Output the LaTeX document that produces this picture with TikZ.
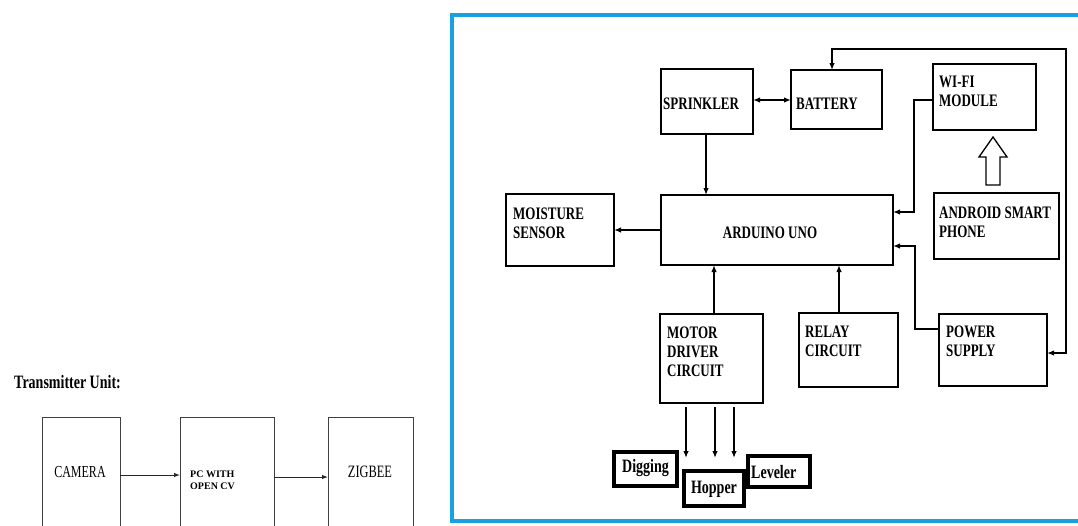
\documentclass[tikz,border=0pt]{standalone}
\usepackage{fontspec}
\setmainfont{Liberation Serif}
\usepackage{graphicx}
\usetikzlibrary{arrows.meta}
\newcommand{\tl}[1]{\scalebox{1}[1.35]{#1}}
\newcommand{\tw}[1]{\scalebox{1}[1.4]{#1}}
\definecolor{frameblue}{RGB}{25,160,225}
\begin{document}
\begin{tikzpicture}[x=1pt,y=-1pt,
 >={Latex[length=7pt,width=5.5pt]},
 box/.style={draw=black, line width=2.8pt, inner sep=0pt, outer sep=0pt},
 sbox/.style={draw=black, line width=3.4pt, inner sep=0pt, outer sep=0pt},
 tbox/.style={draw=black!75, line width=1pt, inner sep=0pt, outer sep=0pt},
 conn/.style={line width=1.7pt},
 tconn/.style={line width=1pt, draw=black!85, -{Latex[length=6pt,width=4.5pt]}},
 lbl/.style={inner sep=0pt, anchor=west, align=left, font=\bfseries\fontsize{13}{19}\selectfont},
]
\clip (0,0) rectangle (1078,525);
\fill[white] (0,0) rectangle (1078,525);

% ---------- Transmitter unit ----------
\node[inner sep=0pt, anchor=west, font=\bfseries\fontsize{14}{16}\selectfont] (ttx) at (14,382) {\tl{Transmitter Unit:}};
\node[tbox, minimum width=78, minimum height=143] (cam) at (81,488.5) {};
\node[tbox, minimum width=94, minimum height=143] (pc) at (227,488.5) {};
\node[tbox, minimum width=85, minimum height=143] (zig) at (370.5,488.5) {};
\node[inner sep=0pt, font=\fontsize{12}{14}\selectfont] (tcam) at (80,472) {\tw{CAMERA}};
\node[inner sep=0pt, font=\fontsize{12.4}{14}\selectfont] (tzig) at (370,472) {\tw{ZIGBEE}};
\node[inner sep=0pt, anchor=west, align=left, font=\bfseries\fontsize{10}{12}\selectfont] (tpc) at (190,480) {PC WITH\\OPEN CV};
\coordinate (ya) at (0,475);
\coordinate (yb) at (0,477);
\draw[tconn] (cam.east |- ya) -- (pc.west |- ya);
\draw[tconn] (pc.east |- yb) -- (zig.west |- yb);

% ---------- Receiver frame ----------
\draw[frameblue, line width=4pt] (452,15) rectangle (1095,521);

% boxes
\node[box, minimum width=92, minimum height=65] (spr) at (707,101.5) {};
\node[box, minimum width=91, minimum height=59] (bat) at (836.5,99.5) {};
\node[box, minimum width=103, minimum height=66] (wifi) at (984.5,97) {};
\node[box, minimum width=108, minimum height=72] (moi) at (560,230) {};
\node[box, minimum width=232, minimum height=70] (ard) at (777,230) {};
\node[box, minimum width=125, minimum height=66] (and) at (996.5,226) {};
\node[box, minimum width=103, minimum height=89] (mot) at (711.5,358.5) {};
\node[box, minimum width=99, minimum height=74] (rel) at (848.5,350) {};
\node[box, minimum width=108, minimum height=72] (pow) at (993,350) {};
\node[sbox, minimum width=63, minimum height=34] (dig) at (645.5,469) {};
\node[sbox, minimum width=60, minimum height=35] (hop) at (714,488.5) {};
\node[sbox, minimum width=62, minimum height=31] (lev) at (779,471.5) {};

% labels
\node[lbl] (tspr) at (663,104) {\tl{SPRINKLER}};
\node[lbl] (tbat) at (796,104) {\tl{BATTERY}};
\node[lbl] (twifi) at (939,91) {\tl{WI-FI}\\\tl{MODULE}};
\node[lbl] (tmoi) at (513,223) {\tl{MOISTURE}\\\tl{SENSOR}};
\node[lbl, anchor=center] (tard) at (770,233) {\tl{ARDUINO UNO}};
\node[lbl] (tand) at (939,222) {\tl{ANDROID SMART}\\\tl{PHONE}};
\node[lbl] (tmot) at (667,352) {\tl{MOTOR}\\\tl{DRIVER}\\\tl{CIRCUIT}};
\node[lbl] (trel) at (805,341) {\tl{RELAY}\\\tl{CIRCUIT}};
\node[lbl] (tpow) at (946,341) {\tl{POWER}\\\tl{SUPPLY}};
\node[lbl, font=\bfseries\fontsize{14}{16}\selectfont] (tdig) at (622,468) {\tl{Digging}};
\node[lbl, anchor=center, font=\bfseries\fontsize{14}{16}\selectfont] (thop) at (714,489) {\tl{Hopper}};
\node[lbl, font=\bfseries\fontsize{14}{16}\selectfont] (tlev) at (751,472) {\tl{Leveler}};

% connectors
\coordinate (ysb) at (0,100);
\draw[conn,<->] (spr.east |- ysb) -- (bat.west |- ysb);
\coordinate (sx) at (706,0);
\draw[conn,->] (spr.south -| sx) -- (ard.north -| sx);
\draw[conn,->] (ard.west) -- (moi.east);
\coordinate (w1) at (914,100);
\coordinate (w2) at (914,212);
\draw[conn,->] (wifi.west |- w1) -- (w1) -- (w2) -- (ard.east |- w2);
\coordinate (p1) at (915,329);
\coordinate (p2) at (915,246);
\draw[conn,->] (pow.west |- p1) -- (p1) -- (p2) -- (ard.east |- p2);
\coordinate (l1) at (832,49);
\coordinate (l2) at (1066,49);
\coordinate (l3) at (1066,353);
\draw[conn,<->] (bat.north -| l1) -- (l1) -- (l2) -- (l3) -- (pow.east |- l3);
\coordinate (mu) at (714,0);
\draw[conn,->] (mot.north -| mu) -- (ard.south -| mu);
\coordinate (ru) at (839,0);
\draw[conn,->] (rel.north -| ru) -- (ard.south -| ru);
\coordinate (d1) at (686,458);
\coordinate (d2) at (715,458);
\coordinate (d3) at (734,458);
\draw[conn,->,shorten <=4pt] (mot.south -| d1) -- (d1);
\draw[conn,->,shorten <=4pt] (mot.south -| d2) -- (d2);
\draw[conn,->,shorten <=4pt] (mot.south -| d3) -- (d3);

% hollow arrow from phone to wifi
\draw[line width=1.3pt, fill=white] (986,185) -- (986,157) -- (979,157) -- (993,137) -- (1007,157) -- (1000,157) -- (1000,185) -- cycle;
\end{tikzpicture}
\end{document}
